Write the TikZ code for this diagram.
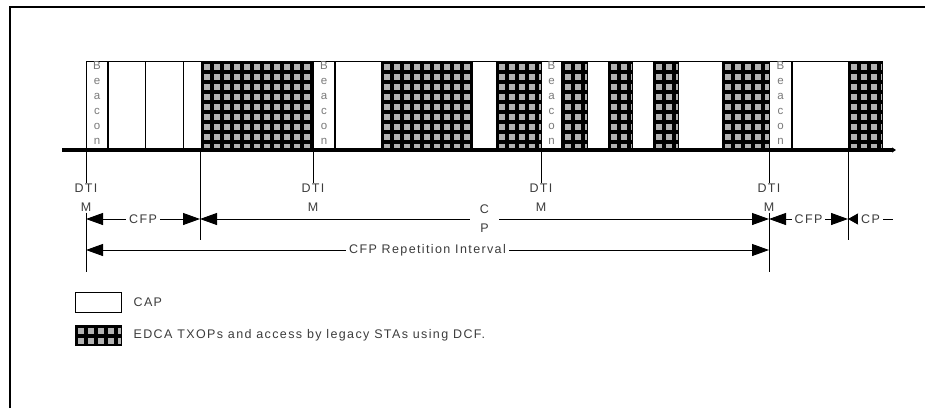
\documentclass[tikz,border=0pt]{standalone}
\usepackage{fontspec}
\setmainfont{Liberation Sans}
\newfontfamily\diagfont[LetterSpace=11]{Liberation Sans}
\usetikzlibrary{positioning, arrows.meta, calc}
\definecolor{txtgray}{HTML}{3C3C3C}
\definecolor{beacongray}{HTML}{7A7A7A}
\definecolor{sqgray}{HTML}{B2B2B2}

\tikzset{
  edca/.style={fill=black, draw=black, line width=0.8pt, path picture={
      \foreach \i in {0,...,11}
        \foreach \j in {0,...,9}
          \fill[sqgray] ([shift={(\i*10+2.5,\j*10+2.5)}]path picture bounding box.north west) rectangle ++(6,6);
    }},
  capblk/.style={fill=white, draw=black, line width=0.8pt},
  txt/.style={text=txtgray, inner sep=0pt, font=\diagfont\fontsize{12.5}{19}\selectfont},
  lbl/.style={txt, fill=white, inner xsep=3pt, inner ysep=1pt},
  dtim/.style={txt, align=center, inner sep=1pt},
  beacontxt/.style={text=beacongray, align=center, inner sep=0pt, font=\fontsize{11.5}{15}\selectfont},
  dim/.style={line width=1pt, {Triangle[length=17pt,width=12pt]}-{Triangle[length=17pt,width=12pt]}},
  dimleft/.style={line width=1pt, {Triangle[length=10pt,width=11pt]}-},
}

\begin{document}
\begin{tikzpicture}[x=1pt, y=-1pt]
  \useasboundingbox (0,0) rectangle (925,408);
  % page frame
  \draw[line width=2pt] (10,408) -- (10,6.5) -- (925,6.5);

  % superframe blocks
  \foreach \a/\b in {108/145, 145/183, 183/201, 335/381, 472/496, 587/608, 632/653, 678/722, 792/848}
    \path[capblk] (\a,61) rectangle (\b,150);
  \foreach \a/\b in {201/313, 381/472, 496/541, 562/587, 608/632, 653/678, 722/769, 848/882}
    \path[edca] (\a,61) rectangle (\b,150);
  \foreach \a/\b [count=\n] in {86/108, 313/335, 541/562, 769/792} {
    \path[capblk] (\a,61) rectangle (\b,150);
    \draw[line width=2.5pt] (\b,61) -- (\b,150);
    \node[beacontxt] (beacon\n) at ({(\a+\b)/2},103.5) {B\\e\\a\\c\\o\\n};
  }

  % time axis
  \draw[line width=3.5pt, -{Triangle[length=4pt,width=5pt]}] (62,150) -- (896,150);

  % beacon ticks and DTIM labels
  \foreach \x [count=\n] in {86, 313, 541, 769} {
    \coordinate (b\n) at (\x,150);
    \node[dtim] (d\n) at (\x,197.5) {DTI\\M};
    \draw[line width=1pt] (b\n) -- (d\n.north);
  }
  \coordinate (e1) at (200,150);
  \coordinate (e2) at (848,150);
  \coordinate (e1lo) at (200,240);
  \coordinate (e2lo) at (848,240);
  \draw[line width=1pt] (e1) -- (e1lo);
  \draw[line width=1pt] (e2) -- (e2lo);
  \coordinate (d1lo) at (86,272);
  \coordinate (d4lo) at (769,272);
  \draw[line width=1pt] (d1.south) -- (d1lo);
  \draw[line width=1pt] (d4.south) -- (d4lo);

  % period arrows
  \coordinate (cfpL) at (86,219);
  \coordinate (cpL) at (200,219);
  \coordinate (cfp2L) at (769,219);
  \coordinate (cp2L) at (848,219);
  \coordinate (cp2R) at (893,219);
  \coordinate (repL) at (86,250);
  \coordinate (repR) at (769,250);
  \draw[dim] (cfpL) -- node[lbl] {CFP} (cpL);
  \draw[dim] (cpL) -- node[lbl, align=center, minimum width=29pt] {C\\P} (cfp2L);
  \draw[dim] (cfp2L) -- node[lbl] {CFP} (cp2L);
  \draw[dimleft] (cp2L) -- node[lbl] {CP} (cp2R);
  \draw[dim] (repL) -- node[lbl] {CFP Repetition Interval} (repR);

  % legend
  \node[capblk, minimum width=46pt, minimum height=20pt, inner sep=0pt] (capkey) at (98,302) {};
  \node[txt, right=12pt of capkey] (caplbl) {CAP};
  \node[edca, minimum width=46pt, minimum height=20pt, inner sep=0pt] (edcakey) at (98,335) {};
  \node[txt, right=12pt of edcakey] (edcalbl) {EDCA TXOPs and access by legacy STAs using DCF.};
\end{tikzpicture}
\end{document}
